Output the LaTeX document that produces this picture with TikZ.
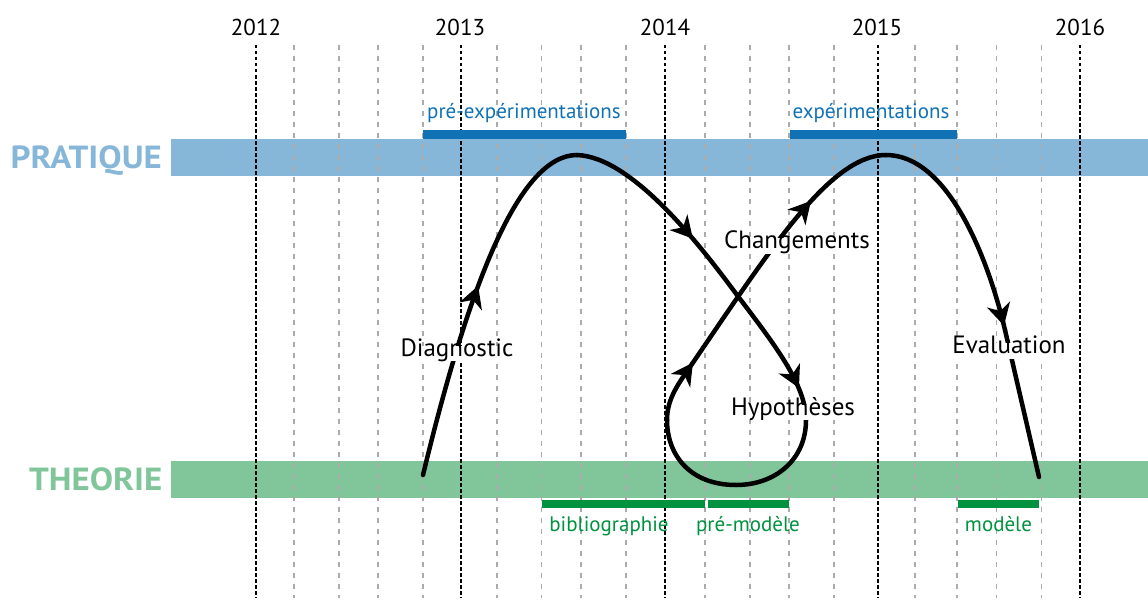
\documentclass[tikz,border=0pt]{standalone}
\usepackage{fontspec}
\setmainfont{PT Sans}
\newfontfamily\bandfont[FakeStretch=1.09]{PT Sans}
\usetikzlibrary{arrows.meta,decorations.markings}
\definecolor{pband}{HTML}{86B7D9}
\definecolor{pdark}{HTML}{1071B5}
\definecolor{tband}{HTML}{81C69B}
\definecolor{tdark}{HTML}{00923F}
\definecolor{gridgray}{HTML}{ABABAB}
\tikzset{
  yearline/.style={black, line width=1.1pt, dash pattern=on 3.5pt off 2.5pt},
  subline/.style={gridgray, line width=1.1pt, dash pattern=on 5pt off 6pt},
  yearlabel/.style={anchor=base, inner sep=0pt, font=\fontsize{23}{27}\selectfont},
  bandlabel/.style={anchor=base east, inner sep=0pt, font=\bandfont\fontsize{32}{36}\selectfont\bfseries},
  phaselabel/.style={anchor=base, inner sep=0pt, font=\fontsize{21}{25}\selectfont},
  flow/.style={line width=4.5pt, line cap=round, black},
  lbl/.style={fill=white, inner sep=3pt, anchor=base, text height=0.74em, text depth=0.22em, font=\fontsize{25}{30}\selectfont},
  arrowat/.style={postaction={decorate}, decoration={markings, mark=at position #1 with {\fill[black] (9pt,0pt) -- (-13pt,12pt) -- (-6pt,0pt) -- (-13pt,-12pt) -- cycle;}}}
}
\begin{document}
\begin{tikzpicture}[x=1pt,y=-1pt]
\useasboundingbox (0,0) rectangle (1148,602);
% bands
\fill[pband] (171,138.5) rectangle (1148,176);
\fill[tband] (171,461) rectangle (1148,498.3);
% grid
\foreach \x in {294,339,378,423,497,541.5,581,626,705,750,789,834,915,957,996.5,1041.5}
  \draw[subline] (\x,45) -- (\x,598);
\foreach \x in {256,461,665,878,1080}
  \draw[yearline] (\x,45) -- (\x,598);
% years
\node[yearlabel] (y12) at (256,36) {2012};
\node[yearlabel] (y13) at (460,36) {2013};
\node[yearlabel] (y14) at (665,36) {2014};
\node[yearlabel] (y15) at (877,36) {2015};
\node[yearlabel] (y16) at (1080,36) {2016};
% band labels
\node[bandlabel, text=pband] (prat) at (162,168.3) {PRATIQUE};
\node[bandlabel, text=tband] (theo) at (162.5,490) {THEORIE};
% phase bars
\fill[pdark] (423,130) rectangle (626,138.5);
\fill[pdark] (790,130) rectangle (957,138.5);
\fill[tdark] (541.5,500) rectangle (705,508.3);
\fill[tdark] (707.5,500) rectangle (789,508.3);
\fill[tdark] (957.5,500) rectangle (1039,508.3);
\node[phaselabel, text=pdark] (preexp) at (524,118) {pré-expérimentations};
\node[phaselabel, text=pdark] (exp) at (871,118) {expérimentations};
\node[phaselabel, text=tdark] (biblio) at (609,531) {bibliographie};
\node[phaselabel, text=tdark] (premod) at (748,531) {pré-modèle};
\node[phaselabel, text=tdark] (modele) at (998.5,531) {modèle};
% curve
\coordinate (s0) at (423,475);
\coordinate (pk1) at (577,155);
\coordinate (x1) at (737,295);
\coordinate (r1) at (806,420);
\coordinate (b1) at (736,485);
\coordinate (l1) at (667,420);
\coordinate (a4) at (692,364);
\coordinate (pk2) at (886,155);
\coordinate (e1) at (1005,330);
\coordinate (e2) at (1039,477);
\draw[flow, arrowat=0.51] (s0) .. controls (470,280) and (520,155) .. (pk1);
\draw[flow, arrowat=0.63] (pk1) .. controls (632,157) and (700,245) .. (x1);
\draw[flow, arrowat=0.71] (x1) .. controls (775,345) and (806,385) .. (r1);
\draw[flow] (r1) .. controls (806,460) and (775,485) .. (b1) .. controls (690,485) and (667,455) .. (l1);
\draw[flow, arrowat=0.88] (l1) .. controls (667,398) and (679,383) .. (a4);
\draw[flow, arrowat=0.66] (a4) .. controls (770,250) and (830,155) .. (pk2);
\draw[flow, arrowat=0.94] (pk2) .. controls (948,155) and (988,258) .. (e1);
\draw[flow] (e1) -- (e2);
% labels
\node[lbl] (diag) at (457,356) {Diagnostic};
\node[lbl] (hyp) at (793,415) {Hypothèses};
\node[lbl] (chg) at (797,248.3) {Changements};
\node[lbl] (eval) at (1009,353.3) {Evaluation};
\end{tikzpicture}
\end{document}
